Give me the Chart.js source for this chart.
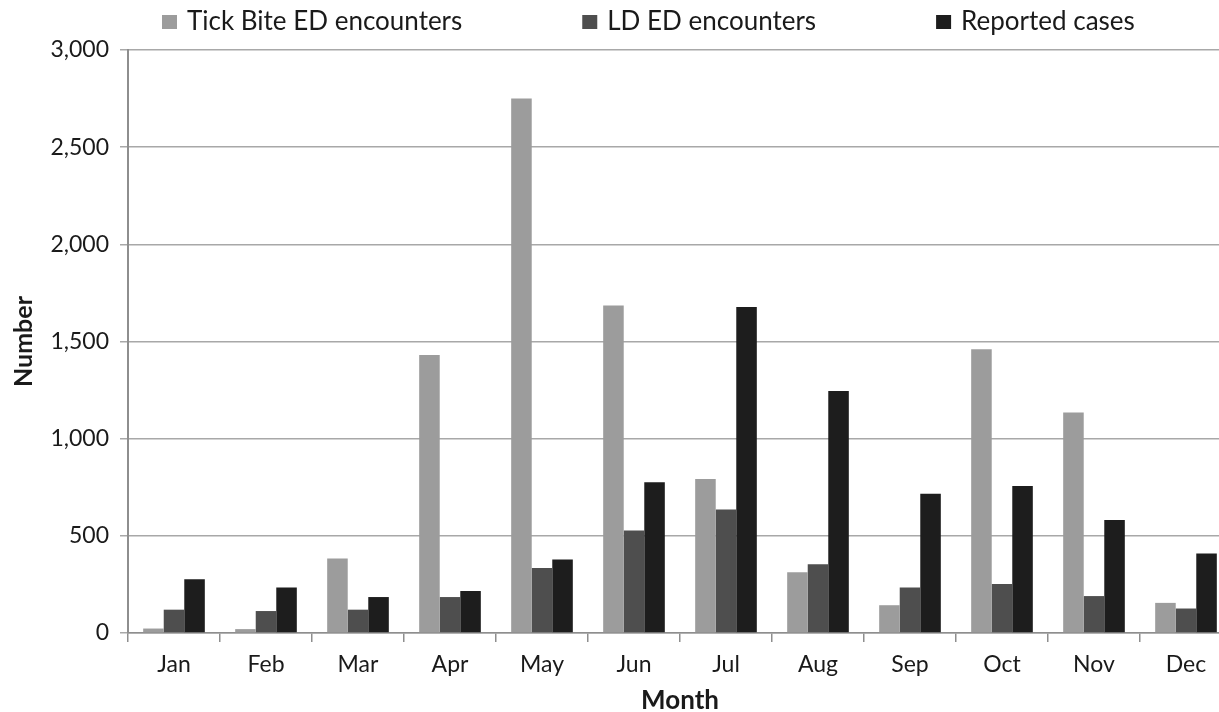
<!DOCTYPE html>
<html>
<head>
<meta charset="utf-8">
<title>Tick bites and Lyme disease by month</title>
<script src="https://cdn.jsdelivr.net/npm/chart.js@4.4.1/dist/chart.umd.min.js"></script>
<style>
    html, body { margin: 0; padding: 0; background: #fff; overflow: hidden; }
    #wrap { position: relative; width: 1250px; height: 716px; }
</style>
</head>
<body>
<div id="wrap"><canvas id="monthChart"></canvas></div>
<script>
    // --- monthly counts ---
    const months = ['Jan', 'Feb', 'Mar', 'Apr', 'May', 'Jun', 'Jul', 'Aug', 'Sep', 'Oct', 'Nov', 'Dec'];
    const tickBiteEd = [23, 20, 383, 1430, 2750, 1685, 793, 313, 143, 1460, 1135, 155];
    const ldEd = [120, 113, 120, 185, 335, 527, 635, 354, 234, 252, 190, 126];
    const reportedCases = [276, 234, 185, 216, 378, 776, 1677, 1245, 716, 757, 582, 409];
    const yTickValues = [0, 500, 1000, 1500, 2000, 2500, 3000];

    const textColor = '#1a1a1a';
    const axisGray = '#8e8e8e';
    const gridGray = '#a8a8a8';

    Chart.defaults.font.family = 'Lato, "Open Sans", sans-serif';
    Chart.defaults.color = textColor;

    // legend row along the top, items spaced evenly after each label
    const legendRow = {
        id: 'legendRow',
        afterDraw(chart, args, opts) {
            const ctx = chart.ctx;
            ctx.save();
            ctx.font = opts.font;
            ctx.textBaseline = 'middle';
            let x = opts.left;
            chart.data.datasets.forEach(function (ds) {
                ctx.fillStyle = ds.backgroundColor;
                ctx.fillRect(x, opts.y - opts.boxH / 2, opts.boxW, opts.boxH);
                x += opts.boxW + opts.textGap;
                ctx.fillStyle = textColor;
                ctx.fillText(ds.label, x, opts.y);
                x += ctx.measureText(ds.label).width + opts.itemGap;
            });
            ctx.restore();
        }
    };

    const ctx = document.getElementById('monthChart').getContext('2d');
    new Chart(ctx, {
        type: 'bar',
        data: {
            labels: months,
            datasets: [
                { label: 'Tick Bite ED encounters', data: tickBiteEd, backgroundColor: '#9c9c9c' },
                { label: 'LD ED encounters', data: ldEd, backgroundColor: '#4e4e4e' },
                { label: 'Reported cases', data: reportedCases, backgroundColor: '#1d1d1d' }
            ]
        },
        options: {
            responsive: true,
            maintainAspectRatio: false,
            animation: false,
            datasets: {
                bar: { categoryPercentage: 0.67, barPercentage: 1.0, borderWidth: 0 }
            },
            layout: { padding: { top: 50, right: 18, left: 0, bottom: 0 } },
            plugins: {
                legend: { display: false },
                tooltip: { enabled: false },
                legendRow: {
                    left: 162, y: 22, boxW: 15, boxH: 14, textGap: 10, itemGap: 120,
                    font: '26px Lato, "Open Sans", sans-serif'
                }
            },
            scales: {
                x: {
                    grid: {
                        display: true, drawOnChartArea: false, drawTicks: true,
                        tickLength: 9, color: axisGray, lineWidth: 1.5, offset: true
                    },
                    border: { color: axisGray, width: 1.5 },
                    ticks: { font: { size: 23 }, padding: 9, color: textColor },
                    title: {
                        display: true, text: 'Month', color: textColor,
                        font: { size: 26, weight: 'bold' },
                        padding: { top: 0, bottom: 0 }
                    },
                    afterFit: function (scale) { scale.height = 83; }
                },
                y: {
                    min: 0,
                    max: 3000,
                    afterBuildTicks: function (scale) {
                        scale.ticks = yTickValues.map(function (v) { return { value: v }; });
                    },
                    grid: { color: gridGray, lineWidth: 1.5, tickLength: 8 },
                    border: { color: axisGray, width: 2 },
                    ticks: { font: { size: 23 }, padding: 11, color: textColor },
                    title: {
                        display: true, text: 'Number', color: textColor,
                        font: { size: 25, weight: 'bold' },
                        padding: { top: 9, bottom: 0 }
                    },
                    afterFit: function (scale) { scale.width = 128; }
                }
            }
        },
        plugins: [legendRow]
    });
</script>
</body>
</html>
